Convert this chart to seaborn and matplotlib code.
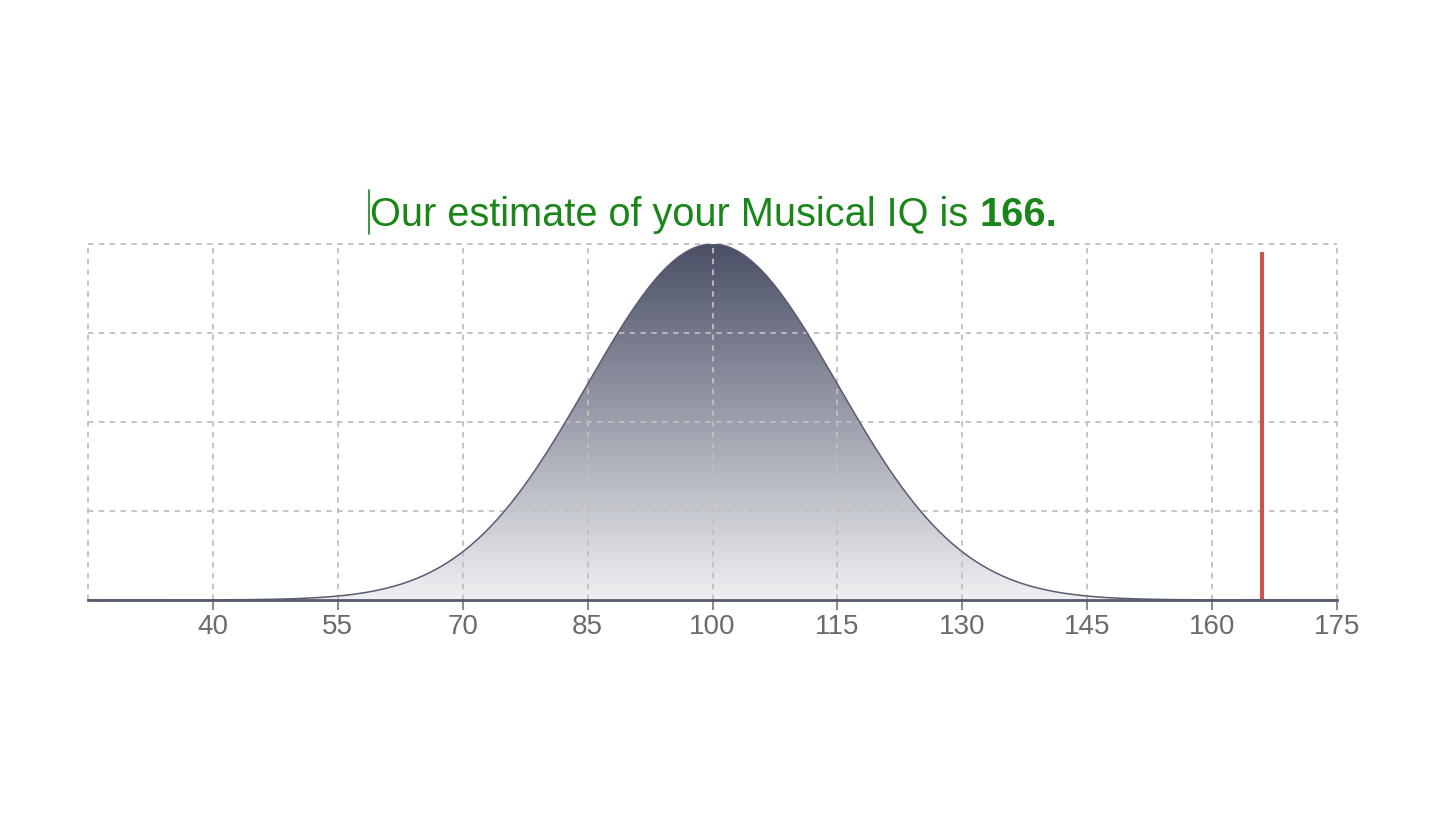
import numpy as np
import pandas as pd
import seaborn as sns
import matplotlib
matplotlib.use("Agg")
import matplotlib.pyplot as plt
from matplotlib.colors import LinearSegmentedColormap
from matplotlib.lines import Line2D

# Population distribution of musical IQ and the individual estimate
iq_mean = 100
iq_sd = 15
estimate = 166
x_ticks = [40, 55, 70, 85, 100, 115, 130, 145, 160, 175]
x_min, x_max = 25, 175

title_text = "Our estimate of your Musical IQ is "
title_value = f"{estimate}."

sns.set_theme(style="white")
plt.rcParams["font.family"] = ["Liberation Sans", "DejaVu Sans"]

iq = np.linspace(x_min, x_max, 601)
density = np.exp(-0.5 * ((iq - iq_mean) / iq_sd) ** 2) / (iq_sd * np.sqrt(2 * np.pi))
df = pd.DataFrame({"iq": iq, "density": density})
peak = density.max()

fig = plt.figure(figsize=(14.46, 8.14), dpi=100)
ax = fig.add_axes([88 / 1446, 1 - 600 / 814, (1337 - 88) / 1446, (600 - 244) / 814])

curve_color = "#575c72"
sns.lineplot(data=df, x="iq", y="density", ax=ax, color=curve_color, lw=1.1, zorder=4)

# Gradient fill under the curve
poly = ax.fill_between(df["iq"], 0, df["density"], color="none", lw=0)
cmap = LinearSegmentedColormap.from_list("slate", ["#eff0f2", "#4a4f66"])
grad = np.linspace(0, 1, 256).reshape(-1, 1)
img = ax.imshow(grad, cmap=cmap, aspect="auto", origin="lower",
                extent=[x_min, x_max, 0, peak], zorder=2)
img.set_clip_path(poly.get_paths()[0], transform=ax.transData)

ax.set_xlim(x_min, x_max)
ax.set_ylim(0, peak)

# Dashed grid on top of the fill
grid_kw = dict(color="#bfbfbf", lw=1.3, ls=(0, (3, 3)), zorder=3, clip_on=False)
for xv in [x_min] + x_ticks:
    ax.axvline(xv, **grid_kw)
for frac in [0.25, 0.5, 0.75, 1.0]:
    ax.axhline(peak * frac, **grid_kw)

# Estimate marker
ax.plot([estimate, estimate], [0, peak * 0.978], color="#c9554c", lw=3, zorder=5,
        solid_capstyle="butt")

for side in ["top", "left", "right"]:
    ax.spines[side].set_visible(False)
ax.spines["bottom"].set_color("#555a6e")
ax.spines["bottom"].set_linewidth(2)
ax.spines["bottom"].set_zorder(6)

ax.set_xticks(x_ticks)
ax.set_xticklabels([str(t) for t in x_ticks])
ax.set_yticks([])
ax.tick_params(axis="x", direction="out", length=7, width=1.2, color="#777777",
               labelsize=20, labelcolor="#6b6b6b", pad=3, bottom=True)
ax.set_xlabel("")
ax.set_ylabel("")

# Title with bold value
green = "#1a861a"
t1 = fig.text(370 / 1446, 1 - 226 / 814, title_text, fontsize=28.6, color=green,
              ha="left", va="baseline")
ax.annotate(title_value, xy=(1, 0), xycoords=t1, xytext=(0, 0),
            textcoords="offset points", fontsize=28.6, fontweight="bold",
            color=green, ha="left", va="bottom", annotation_clip=False)
fig.add_artist(Line2D([369 / 1446, 369 / 1446], [1 - 234 / 814, 1 - 190 / 814],
                      color=green, lw=1.2))

fig.savefig("out.png", dpi=100, facecolor="white")
